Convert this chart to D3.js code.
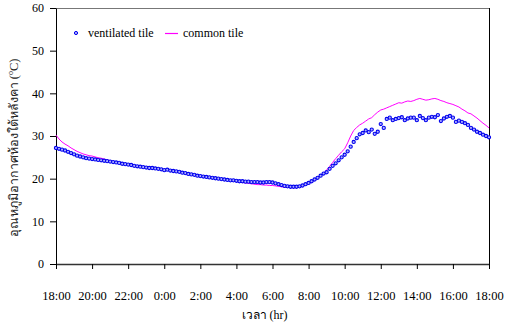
<!DOCTYPE html>
<html>
<head>
<meta charset="utf-8">
<script src="https://cdn.jsdelivr.net/npm/d3@7"></script>
<style>
  body { margin: 0; background: #fff; }
  svg text { font-family: "Liberation Serif", "Times New Roman", serif; }
</style>
</head>
<body>
<svg id="chart" width="510" height="322"></svg>
<script>
// hours after 18:00, one reading every 10 minutes
const xTickLabels = ["18:00","20:00","22:00","0:00","2:00","4:00","6:00","8:00","10:00","12:00","14:00","16:00","18:00"];
const yTicks = [0, 10, 20, 30, 40, 50, 60];

const ventilatedTile = [
  27.2, 27.0, 26.8, 26.6, 26.3, 26.0,
  25.7, 25.4, 25.2, 25.0, 24.8, 24.7,
  24.6, 24.5, 24.4, 24.3, 24.2, 24.1,
  24.0, 23.9, 23.8, 23.7, 23.5, 23.4,
  23.3, 23.2, 23.0, 22.9, 22.8, 22.7,
  22.6, 22.5, 22.5, 22.4, 22.3, 22.2,
  22.0, 22.1, 21.9, 21.8, 21.7, 21.6,
  21.4, 21.3, 21.1, 21.0, 20.9, 20.7,
  20.6, 20.5, 20.4, 20.3, 20.2, 20.1,
  20.0, 19.9, 19.8, 19.7, 19.6, 19.6,
  19.5, 19.4, 19.4, 19.3, 19.3, 19.2,
  19.2, 19.2, 19.1, 19.1, 19.2, 19.2,
  19.1, 18.9, 18.7, 18.5, 18.3, 18.2,
  18.1, 18.1, 18.1, 18.2, 18.4, 18.7,
  19.0, 19.4, 19.8, 20.2, 20.7, 21.2,
  21.5, 22.3, 23.0, 23.6, 24.3, 25.0,
  25.6, 26.4, 27.5, 28.6, 29.5, 30.4,
  30.7, 31.3, 30.9, 31.5, 30.5, 31.0,
  32.8, 31.9, 34.0, 34.3, 33.7, 34.0,
  34.2, 34.4, 33.7, 34.1, 34.3, 34.3,
  33.7, 34.7, 34.2, 33.7, 34.3, 34.5,
  34.4, 34.9, 33.5, 34.1, 34.5, 34.7,
  34.3, 33.3, 33.6, 33.3, 33.0, 32.6,
  31.9, 31.5, 31.0, 30.7, 30.3, 30.0,
  29.7
];

const commonTile = [
  30.2, 29.3, 28.6, 28.1, 27.7, 27.2,
  26.8, 26.4, 26.1, 25.8, 25.6, 25.4,
  25.3, 25.1, 24.9, 24.8, 24.6, 24.4,
  24.2, 24.1, 23.9, 23.8, 23.6, 23.5,
  23.4, 23.2, 23.1, 22.9, 22.8, 22.7,
  22.6, 22.5, 22.4, 22.3, 22.3, 22.2,
  22.0, 22.0, 21.9, 21.8, 21.7, 21.5,
  21.3, 21.2, 21.0, 20.9, 20.8, 20.6,
  20.5, 20.4, 20.3, 20.2, 20.1, 20.0,
  19.9, 19.8, 19.7, 19.6, 19.5, 19.4,
  19.3, 19.2, 19.1, 19.0, 18.9, 18.8,
  18.7, 18.6, 18.6, 18.5, 18.5, 18.4,
  18.4, 18.3, 18.2, 18.1, 18.0, 18.0,
  17.9, 17.9, 17.9, 18.0, 18.2, 18.5,
  18.8, 19.2, 19.6, 20.1, 20.7, 21.3,
  22.0, 22.9, 23.8, 24.7, 25.5, 26.3,
  27.0, 28.4, 30.0, 31.3, 32.0, 32.6,
  33.0, 33.5, 34.0, 34.3, 35.0, 35.6,
  36.1, 36.3, 36.6, 36.9, 37.2, 37.5,
  37.8, 37.7, 38.0, 38.2, 38.1, 38.3,
  38.6, 38.8, 38.6, 38.4, 38.5, 38.7,
  38.8, 38.6, 38.3, 38.1, 37.8, 37.6,
  37.4, 37.1, 36.8, 36.3, 35.9, 35.4,
  35.2, 34.7, 34.2, 33.6, 33.0, 32.5,
  31.9
];

const svg = d3.select("#chart");
const margin = { left: 56, right: 21, top: 8, bottom: 58 };
const width = 510 - margin.left - margin.right;
const height = 322 - margin.top - margin.bottom;

const g = svg.append("g").attr("transform", `translate(${margin.left},${margin.top})`);

const x = d3.scaleLinear().domain([0, 24]).range([0, width]);
const y = d3.scaleLinear().domain([0, 60]).range([height, 0]);

const hourOf = i => i / 6;

// frame: top and right
g.append("line").attr("x1", 0).attr("x2", width).attr("y1", 0.5).attr("y2", 0.5)
  .attr("stroke", "#777").attr("stroke-width", 1);
g.append("line").attr("x1", width + 0.5).attr("x2", width + 0.5).attr("y1", 0).attr("y2", height)
  .attr("stroke", "#000").attr("stroke-width", 1);

// y axis
const yAxis = g.append("g")
  .call(d3.axisLeft(y).tickValues(yTicks).tickSize(6).tickPadding(6).tickSizeOuter(0));
yAxis.select(".domain").attr("stroke", "#000");
yAxis.selectAll("text").attr("font-size", 12).attr("fill", "#000");

// x axis
const xAxis = g.append("g").attr("transform", `translate(0,${height})`)
  .call(d3.axisBottom(x).tickValues(d3.range(0, 25, 2)).tickSize(5).tickSizeOuter(0)
    .tickFormat((d, i) => xTickLabels[i]).tickPadding(22));
xAxis.select(".domain").attr("stroke", "#333").attr("stroke-width", 1.5);
xAxis.selectAll("text").attr("font-size", 12.5).attr("fill", "#000");

// common tile line
const line = d3.line().x((d, i) => x(hourOf(i))).y(d => y(d));
g.append("path").datum(commonTile)
  .attr("fill", "none").attr("stroke", "#ff00ff").attr("stroke-width", 1)
  .attr("d", line);

// ventilated tile markers
g.selectAll("circle.vent").data(ventilatedTile).join("circle")
  .attr("class", "vent")
  .attr("cx", (d, i) => x(hourOf(i)))
  .attr("cy", d => y(d))
  .attr("r", 1.6)
  .attr("fill", "#b0b0ff")
  .attr("stroke", "#0000ee")
  .attr("stroke-width", 1.1);

// legend
const legend = g.append("g").attr("transform", "translate(20,25)");
legend.append("circle").attr("cx", 0).attr("cy", 0).attr("r", 1.6)
  .attr("fill", "#b0b0ff").attr("stroke", "#0000ee");
legend.append("text").attr("x", 12).attr("y", 4).attr("font-size", 12).text("ventilated tile");
legend.append("line").attr("x1", 89).attr("x2", 102).attr("y1", 0.5).attr("y2", 0.5)
  .attr("stroke", "#ff00ff").attr("stroke-width", 1.2);
legend.append("text").attr("x", 107).attr("y", 4).attr("font-size", 12).text("common tile");

// axis titles
svg.append("text")
  .attr("x", margin.left + x(12) - 8).attr("y", 319)
  .attr("text-anchor", "middle").attr("font-size", 12)
  .text("เวลา (hr)");

const yTitle = svg.append("text")
  .attr("transform", `translate(18,${margin.top + height / 2 + 12}) rotate(-90)`)
  .attr("text-anchor", "middle").attr("font-size", 12.5).attr("fill", "#222");
yTitle.append("tspan").text("อุณหภูมิอากาศห้องใต้หลังคา (");
yTitle.append("tspan").attr("font-size", 8).attr("dy", -5).text("o");
yTitle.append("tspan").attr("dy", 5).text("C)");
</script>
</body>
</html>
